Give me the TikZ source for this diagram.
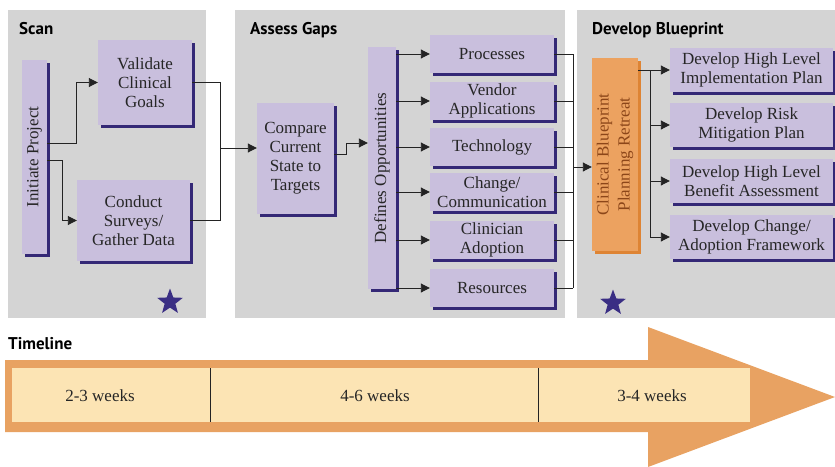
\documentclass[tikz,border=0pt]{standalone}
\usepackage{fontspec}
\setmainfont{Liberation Serif}
\newfontfamily\headfont{PT Sans}
\usetikzlibrary{arrows.meta,shapes.geometric,shadows}
\definecolor{panelgray}{RGB}{212,212,212}
\definecolor{boxlav}{RGB}{201,191,221}
\definecolor{shadowpurple}{RGB}{52,40,118}
\definecolor{retreatorange}{RGB}{236,162,96}
\definecolor{retreatshadow}{RGB}{222,132,52}
\definecolor{retreattext}{RGB}{140,70,25}
\definecolor{timeorange}{RGB}{232,162,98}
\definecolor{timefill}{RGB}{252,228,180}
\definecolor{starpurple}{RGB}{58,46,132}
\definecolor{linkgray}{RGB}{35,35,35}
\begin{document}
\begin{tikzpicture}[x=1pt,y=-1pt,
  heading/.style={anchor=base west, inner sep=0pt, font=\headfont\bfseries\fontsize{17}{19}\selectfont},
  task/.style={fill=boxlav, inner sep=0pt, align=center, text=black!85, font=\fontsize{17}{19}\selectfont, general shadow={fill=shadowpurple, shadow xshift=3pt, shadow yshift=-3pt}},
  retreat/.style={fill=retreatorange, inner sep=0pt, text=retreattext, font=\fontsize{17}{21}\selectfont, general shadow={fill=retreatshadow, shadow xshift=3pt, shadow yshift=-3pt}},
  link/.style={draw=linkgray, line width=0.9pt, -{Triangle[length=9pt,width=9pt]}},
  bus/.style={draw=linkgray, line width=0.9pt},
  milestone/.style={star, star points=5, star point ratio=2.4, fill=starpurple, minimum size=27pt, inner sep=0pt},
  span/.style={text=black!85, font=\fontsize{17}{19}\selectfont}]
\useasboundingbox (0,0) rectangle (835,466);
\fill[panelgray] (8,10) rectangle (206,318);
\fill[panelgray] (235,10) rectangle (565,318);
\fill[panelgray] (577,10) rectangle (835,318);
\node[heading] (scantitle) at (19,34) {Scan};
\node[heading] (gaptitle) at (250,34) {Assess Gaps};
\node[heading] (bptitle) at (592,34) {Develop Blueprint};
\node[task, minimum width=25pt, minimum height=194pt] (ip) at (34.5,157) {\rotatebox{90}{Initiate Project}};
\node[task, minimum width=94pt, minimum height=85pt] (vcg) at (145,82.5) {Validate\\Clinical\\Goals};
\node[task, minimum width=113pt, minimum height=81pt] (cs) at (133.5,220.5) {Conduct\\Surveys/\\Gather Data};
\node[task, minimum width=77pt, minimum height=111pt] (cmp) at (295.5,158.5) {Compare\\Current\\State to\\Targets};
\node[task, minimum width=28pt, minimum height=242pt] (dop) at (382,168) {\rotatebox{90}{Defines Opportunities}};
\node[task, minimum width=124pt, minimum height=38pt] (proc) at (492,54) {Processes};
\node[task, minimum width=124pt, minimum height=38pt] (vend) at (492,101) {Vendor\\Applications};
\node[task, minimum width=124pt, minimum height=38pt] (tech) at (492,147) {Technology};
\node[task, minimum width=124pt, minimum height=38pt] (chg) at (492,192) {Change/\\Communication};
\node[task, minimum width=124pt, minimum height=38pt] (clin) at (492,240) {Clinician\\Adoption};
\node[task, minimum width=124pt, minimum height=38pt] (res) at (492,288) {Resources};
\node[retreat, minimum width=46pt, minimum height=193pt] (cbr) at (615,154.5) {\rotatebox{90}{\begin{tabular}{@{}c@{}}Clinical Blueprint\\Planning Retreat\end{tabular}}};
\node[task, minimum width=163pt, minimum height=44pt] (hlip) at (751.5,70) {Develop High Level\\Implementation Plan};
\node[task, minimum width=163pt, minimum height=44pt] (risk) at (751.5,125) {Develop Risk\\Mitigation Plan};
\node[task, minimum width=163pt, minimum height=44pt] (ben) at (751.5,181) {Develop High Level\\Benefit Assessment};
\node[task, minimum width=163pt, minimum height=44pt] (chad) at (751.5,237) {Develop Change/\\Adoption Framework};
\node[milestone] (scanstar) at (170,302) {};
\node[milestone] (bpstar) at (613,303) {};
\coordinate (scanjoin) at (220,148);
\coordinate (gapjoin) at (573,167);
\coordinate (bpbus) at (650,0);
\draw[link] ([yshift=14pt]ip.east) -| ([xshift=-21pt]vcg.west) -- (vcg.west);
\draw[link] ([yshift=-3pt]ip.east) -| ([xshift=-14pt]cs.west) -- (cs.west);
\draw[bus] (vcg.east) -| (scanjoin);
\draw[bus] (cs.east) -| (scanjoin);
\draw[link] (scanjoin) -- (scanjoin -| cmp.west);
\draw[link] ([yshift=4pt]cmp.east) -- ++(12,0) |- ([yshift=25pt]dop.west);
\draw[link] (dop.east |- proc.west) -- (proc.west);
\draw[link] (dop.east |- vend.west) -- (vend.west);
\draw[link] (dop.east |- tech.west) -- (tech.west);
\draw[link] (dop.east |- chg.west) -- (chg.west);
\draw[link] (dop.east |- clin.west) -- (clin.west);
\draw[link] (dop.east |- res.west) -- (res.west);
\draw[bus] (proc.east) -- (proc.east -| gapjoin);
\draw[bus] (vend.east) -- (vend.east -| gapjoin);
\draw[bus] (tech.east) -- (tech.east -| gapjoin);
\draw[bus] (chg.east) -- (chg.east -| gapjoin);
\draw[bus] (clin.east) -- (clin.east -| gapjoin);
\draw[bus] (res.east) -- (res.east -| gapjoin);
\draw[bus] (proc.east -| gapjoin) -- (res.east -| gapjoin);
\draw[link] (gapjoin) -- (gapjoin -| cbr.west);
\draw[link] (cbr.east |- hlip.west) -- (hlip.west);
\draw[bus] (bpbus |- hlip.west) -- (bpbus |- chad.west);
\draw[link] (bpbus |- risk.west) -- (risk.west);
\draw[link] (bpbus |- ben.west) -- (ben.west);
\draw[link] (bpbus |- chad.west) -- (chad.west);
\node[heading] (timetitle) at (8,349) {Timeline};
\fill[timeorange] (5,360) -- (648,360) -- (648,327) -- (835,397) -- (648,467) -- (648,432) -- (5,432) -- cycle;
\fill[timefill] (12,368) rectangle (750,422);
\draw[linkgray, line width=0.6pt] (210,368) -- (210,422);
\draw[linkgray, line width=0.6pt] (538,368) -- (538,422);
\node[span] (scanweeks) at (100,396) {2-3 weeks};
\node[span] (gapweeks) at (375,396) {4-6 weeks};
\node[span] (bpweeks) at (652,396) {3-4 weeks};
\end{tikzpicture}
\end{document}
